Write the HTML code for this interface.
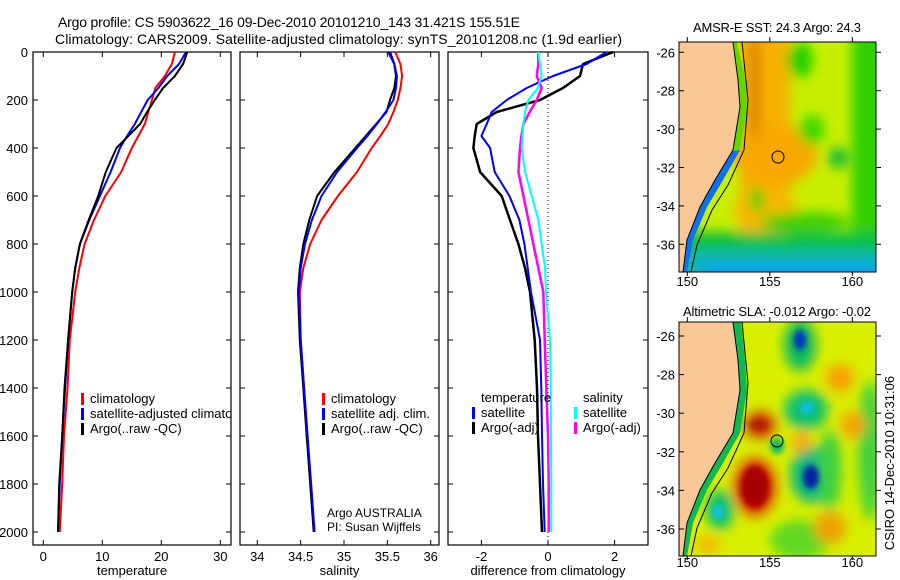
<!DOCTYPE html>
<html><head><meta charset="utf-8"><style>
body{margin:0;background:#fff}
svg{display:block;font-family:"Liberation Sans",sans-serif}
</style></head><body>
<svg id="fig" width="900" height="580" viewBox="0 0 900 580">
<defs>
<filter id="bl" x="-50%" y="-50%" width="200%" height="200%"><feGaussianBlur stdDeviation="6"/></filter>
<filter id="bl2" x="-50%" y="-50%" width="200%" height="200%"><feGaussianBlur stdDeviation="3"/></filter>
<clipPath id="c1"><rect x="679" y="42" width="197" height="230"/></clipPath>
<clipPath id="c2"><rect x="679" y="322" width="197" height="234"/></clipPath>
<clipPath id="cp1"><rect x="33" y="52" width="198" height="493"/></clipPath>
</defs>
<text x="58" y="27" font-size="14" textLength="462">Argo profile: CS 5903622_16 09-Dec-2010 20101210_143 31.421S 155.51E</text>
<text x="55" y="44" font-size="14" textLength="567">Climatology: CARS2009. Satellite-adjusted climatology: synTS_20101208.nc (1.9d earlier)</text>

<g id="p1"></g>
<g id="p2"></g>
<g id="p3"></g>

<!-- Map 1 -->
<g>
<text x="693" y="32" font-size="13" textLength="168">AMSR-E SST: 24.3 Argo: 24.3</text>
<g clip-path="url(#c1)">
<rect x="679" y="42" width="197" height="230" fill="#c8f000"/>
<g filter="url(#bl)">
<rect x="740" y="10" width="50" height="222" fill="#f8b000"/>
<ellipse cx="775" cy="155" rx="42" ry="30" fill="#f8a800"/>
<ellipse cx="765" cy="210" rx="32" ry="20" fill="#f8b800"/>
<rect x="748" y="40" width="12" height="95" fill="#e08000"/>
<ellipse cx="800" cy="60" rx="13" ry="18" fill="#20d000"/>
<ellipse cx="812" cy="130" rx="13" ry="15" fill="#40d800"/>
<ellipse cx="838" cy="158" rx="10" ry="10" fill="#10b840"/>
<ellipse cx="757" cy="200" rx="7" ry="12" fill="#20d000"/>
<rect x="852" y="0" width="60" height="300" fill="#30d000"/>
<rect x="660" y="232" width="260" height="70" fill="#10c040"/>
<rect x="660" y="250" width="260" height="50" fill="#10b8b0"/>
<rect x="700" y="264" width="200" height="30" fill="#10a0f0"/>
<ellipse cx="805" cy="222" rx="45" ry="10" fill="#40d000"/>
</g>
<polygon points="679,42 737,42 745,80 747,107 740,150 723,180 707,207 693,240 687,272 679,272" fill="#60d800"/>
<polygon points="740,150 723,180 707,207 693,240 687,272 679,272 679,160" fill="#1070f0"/>
<polygon points="679,42 733,42 738,80 740,107 733,150 715,180 700,207 687,240 683,272 679,272" fill="#f9c896"/>
<polyline points="742,42 748,100 744,150 728,185 712,210 697,245 691,272" fill="none" stroke="#000" stroke-width="1"/>
<polyline points="733,42 738,80 740,107 733,150 715,180 700,207 687,240 683,272" fill="none" stroke="#000" stroke-width="1"/>
<circle cx="778" cy="157" r="6" fill="none" stroke="#000" stroke-width="1"/>
</g>
<rect x="679" y="42" width="197" height="230" fill="none" stroke="#000"/>
</g>

<!-- Map 2 -->
<g>
<text x="683" y="316" font-size="13" textLength="188">Altimetric SLA: -0.012 Argo: -0.02</text>
<g clip-path="url(#c2)">
<rect x="679" y="322" width="197" height="234" fill="#d8f000"/>
<g filter="url(#bl)">
<ellipse cx="800" cy="345" rx="16" ry="26" fill="#10b860"/>
<ellipse cx="806" cy="410" rx="22" ry="20" fill="#10c070"/>
<ellipse cx="812" cy="475" rx="22" ry="28" fill="#10b880"/>
<ellipse cx="720" cy="510" rx="14" ry="20" fill="#10c070"/>
<ellipse cx="830" cy="470" rx="12" ry="40" fill="#40d040"/>
<ellipse cx="870" cy="450" rx="12" ry="70" fill="#40d040"/>
<ellipse cx="800" cy="540" rx="30" ry="20" fill="#60d820"/>
<ellipse cx="840" cy="378" rx="14" ry="14" fill="#f8a000"/>
<ellipse cx="853" cy="425" rx="12" ry="14" fill="#f8a000"/>
<ellipse cx="830" cy="528" rx="16" ry="16" fill="#f0a000"/>
<ellipse cx="801" cy="442" rx="10" ry="10" fill="#f8a800"/>
<ellipse cx="708" cy="545" rx="12" ry="8" fill="#f8b000"/>
<ellipse cx="760" cy="425" rx="16" ry="14" fill="#d04000"/>
<ellipse cx="755" cy="487" rx="22" ry="30" fill="#e05000"/>
</g>
<g filter="url(#bl2)">
<ellipse cx="800" cy="340" rx="6" ry="10" fill="#0030c0"/>
<ellipse cx="807" cy="408" rx="6" ry="6" fill="#10c0f0"/>
<ellipse cx="811" cy="477" rx="8" ry="12" fill="#0020a0"/>
<ellipse cx="718" cy="512" rx="5" ry="7" fill="#10c0f0"/>
<ellipse cx="755" cy="487" rx="15" ry="22" fill="#a80000"/>
<ellipse cx="759" cy="425" rx="9" ry="6" fill="#b02000"/>
<ellipse cx="777" cy="446" rx="7" ry="8" fill="#10b860"/>
</g>
<polygon points="679,322 741,322 745,360 747,390 740,433 723,463 707,490 693,523 687,556 679,556" fill="#10b850"/>
<polygon points="679,322 733,322 738,360 740,390 733,433 715,463 700,490 687,523 683,556 679,556" fill="#f9c896"/>
<polyline points="742,322 748,383 744,433 728,468 712,493 697,528 691,556" fill="none" stroke="#000" stroke-width="1"/>
<polyline points="733,322 738,360 740,390 733,433 715,463 700,490 687,523 683,556" fill="none" stroke="#000" stroke-width="1"/>
<circle cx="777" cy="441" r="6" fill="none" stroke="#000" stroke-width="1"/>
</g>
<rect x="679" y="322" width="197" height="234" fill="none" stroke="#000"/>
</g>
<text transform="translate(894,463) rotate(-90)" text-anchor="middle" font-size="13">CSIRO 14-Dec-2010 10:31:06</text>
<g id="maxes"></g>
</svg>
<script>
// ---- data ----
const depths = [0,50,100,150,200,250,300,350,400,500,600,700,800,900,1000,1200,1400,1600,1800,2000];
const tempClim = [22.3,21.8,20.6,19.0,18.4,17.8,17.2,16.1,15.0,13.2,10.5,8.6,7.0,6.1,5.4,4.5,4.1,3.5,3.2,2.8];
const tempSat = [24.2,23.0,21.0,19.5,17.7,16.6,15.5,14.2,13.0,11.4,9.6,7.8,6.2,5.4,4.9,4.2,3.7,3.2,2.8,2.5];
const tempArgo = [24.4,23.7,22.3,20.3,18.9,17.6,16.4,14.4,12.4,10.6,9.3,7.7,6.2,5.4,4.9,4.2,3.6,3.2,2.7,2.5];
const salClim = [35.59,35.65,35.67,35.65,35.62,35.57,35.51,35.42,35.32,35.15,34.93,34.74,34.61,34.53,34.49,34.5,34.54,34.57,34.62,34.66];
const salSat = [35.51,35.58,35.61,35.6,35.57,35.48,35.38,35.27,35.15,34.92,34.74,34.63,34.55,34.5,34.48,34.5,34.54,34.58,34.62,34.66];
const salArgo = [35.53,35.58,35.6,35.58,35.53,35.49,35.37,35.25,35.13,34.89,34.69,34.6,34.53,34.49,34.47,34.49,34.53,34.57,34.61,34.65];
const dTempSat = [1.76,1.16,0.15,-0.64,-1.24,-1.69,-1.84,-2.0,-1.74,-1.6,-1.16,-0.86,-0.71,-0.61,-0.51,-0.24,-0.2,-0.18,-0.15,-0.1];
const dTempArgo = [1.96,1.05,0.96,0.45,-0.24,-1.54,-2.14,-2.2,-2.24,-2.04,-1.39,-1.14,-0.89,-0.69,-0.54,-0.4,-0.33,-0.3,-0.24,-0.18];
const dSalSat = [-0.29,-0.24,-0.19,-0.3,-0.59,-0.69,-0.74,-0.77,-0.79,-0.69,-0.49,-0.29,-0.19,-0.09,-0.06,0.06,0.08,0.09,0.1,0.1];
const dSalArgo = [-0.29,-0.29,-0.34,-0.19,-0.34,-0.55,-0.74,-0.8,-0.84,-0.89,-0.74,-0.59,-0.44,-0.29,-0.14,-0.1,-0.05,0.0,0.02,0.02];
const depthTicks = [0,200,400,600,800,1000,1200,1400,1600,1800,2000];
const tempTicks = [0,10,20,30];
const salTicks = ["34","34.5","35","35.5","36"];
const diffTicks = [-2,0,2];
const lonTicks = [150,155,160];
const latTicks = [-26,-28,-30,-32,-34,-36];

const NS = "http://www.w3.org/2000/svg";
function mk(tag, attrs, parent){const e=document.createElementNS(NS,tag);for(const k in attrs)e.setAttribute(k,attrs[k]);parent.appendChild(e);return e;}
const yD = d => 52 + d*0.24;
const xT = t => 43.3 + 5.9*t;
const xS = s => 257.3 + 86.7*(s-34);
const xDf = v => 548 + 33.3*v;

function frame(g, x0, x1, xticks, xf, labels, title, leftLabels){
  const r = mk('rect',{x:x0,y:52,width:x1-x0,height:493,fill:'none',stroke:'#000','stroke-width':1.2},g);
  
  
  xticks.forEach((t,i)=>{
    const x = xf(+t);
    mk('line',{x1:x,x2:x,y1:52,y2:57,stroke:'#000'},g);
    mk('line',{x1:x,x2:x,y1:545,y2:540,stroke:'#000'},g);
    const tx = mk('text',{x:x,y:561,'font-size':13,'text-anchor':'middle'},g);
    tx.textContent = labels[i];
    
    
  });
  depthTicks.forEach(d=>{
    const y=yD(d);
    mk('line',{x1:x0,x2:x0+5,y1:y,y2:y,stroke:'#000'},g);
    mk('line',{x1:x1,x2:x1-5,y1:y,y2:y,stroke:'#000'},g);
    if(leftLabels){
      const tx = mk('text',{x:x0-5,y:y+5,'font-size':13,'text-anchor':'end'},g);
      tx.textContent = d;
      
      
    }
  });
  const tt = mk('text',{x:(x0+x1)/2,y:575,'font-size':13,'text-anchor':'middle'},g);
  tt.textContent = title;
  
  
}
function line(g, vals, xf, color, w, name){
  const pts = vals.map((v,i)=>xf(v).toFixed(1)+','+yD(depths[i]).toFixed(1)).join(' ');
  const p = mk('polyline',{points:pts,fill:'none',stroke:color,'stroke-width':w,'stroke-linejoin':'round'},g);
  
  
}
function legend(g, x, y, color, label){
  if(color) mk('rect',{x:x,y:y-10,width:3,height:12,fill:color},g);
  const t = mk('text',{x:x+9,y:y,'font-size':13},g);
  t.textContent = label;
  
  
}
const p1=document.getElementById('p1'), p2=document.getElementById('p2'), p3=document.getElementById('p3');
frame(p1,33,231,tempTicks,xT,tempTicks.map(String),'temperature',true);
line(p1,tempClim,xT,'#f00',2,'temp-climatology-line');
line(p1,tempSat,xT,'#00f',2,'temp-satellite-line');
line(p1,tempArgo,xT,'#000',2,'temp-argo-line');
const lg1 = mk('g',{'clip-path':'url(#cp1)'},p1);


legend(lg1,81,403,'#f00','climatology');
legend(lg1,81,418,'#00f','satellite-adjusted climatology');
legend(lg1,81,433,'#000','Argo(..raw -QC)');

frame(p2,240,439,salTicks,xS,salTicks,'salinity',false);
line(p2,salClim,xS,'#f00',2,'sal-climatology-line');
line(p2,salArgo,xS,'#000',2,'sal-argo-line');
line(p2,salSat,xS,'#00f',2,'sal-satellite-line');
legend(p2,322,403,'#f00','climatology');
legend(p2,322,418,'#00f','satellite adj. clim.');
legend(p2,322,433,'#000','Argo(..raw -QC)');
const a1=mk('text',{x:327,y:517,'font-size':12},p2); a1.textContent='Argo AUSTRALIA';


const a2=mk('text',{x:327,y:531,'font-size':12},p2); a2.textContent='PI: Susan Wijffels';



frame(p3,448,648,diffTicks,xDf,diffTicks.map(String),'difference from climatology',false);
mk('line',{x1:xDf(0),x2:xDf(0),y1:52,y2:545,stroke:'#000','stroke-dasharray':'1,3'},p3);
line(p3,dTempArgo,xDf,'#000',2.5,'diff-temp-argo-line');
line(p3,dTempSat,xDf,'#00f',2,'diff-temp-satellite-line');
line(p3,dSalArgo,xDf,'#f0f',2.5,'diff-sal-argo-line');
line(p3,dSalSat,xDf,'#0ff',2,'diff-sal-satellite-line');
legend(p3,472,402,null,'temperature');
legend(p3,472,417,'#00f','satellite');
legend(p3,472,432,'#000','Argo(-adj)');
legend(p3,574,402,null,'salinity');
legend(p3,574,417,'#0ff','satellite');
legend(p3,574,432,'#f0f','Argo(-adj)');

// map axes
const ma=document.getElementById('maxes');
[[42,272,52.3,19.2,286],[322,556,336,19.3,567]].forEach(m=>{
  latTicks.forEach(l=>{
    const y=m[2]+(-26-l)*m[3];
    mk('line',{x1:679,x2:684,y1:y,y2:y,stroke:'#000'},ma);
    mk('line',{x1:876,x2:881,y1:y,y2:y,stroke:'#000'},ma);
    const t=mk('text',{x:675,y:y+5,'font-size':13,'text-anchor':'end'},ma); t.textContent=l;
    
    
  });
  lonTicks.forEach(l=>{
    const x=687.3+(l-150)*16.5;
    mk('line',{x1:x,x2:x,y1:m[0],y2:m[0]-5,stroke:'#000'},ma);
    mk('line',{x1:x,x2:x,y1:m[1],y2:m[1]+4,stroke:'#000'},ma);
    const t=mk('text',{x:x,y:m[4],'font-size':13,'text-anchor':'middle'},ma); t.textContent=l;
    
    
  });
});
</script>
</body></html>
